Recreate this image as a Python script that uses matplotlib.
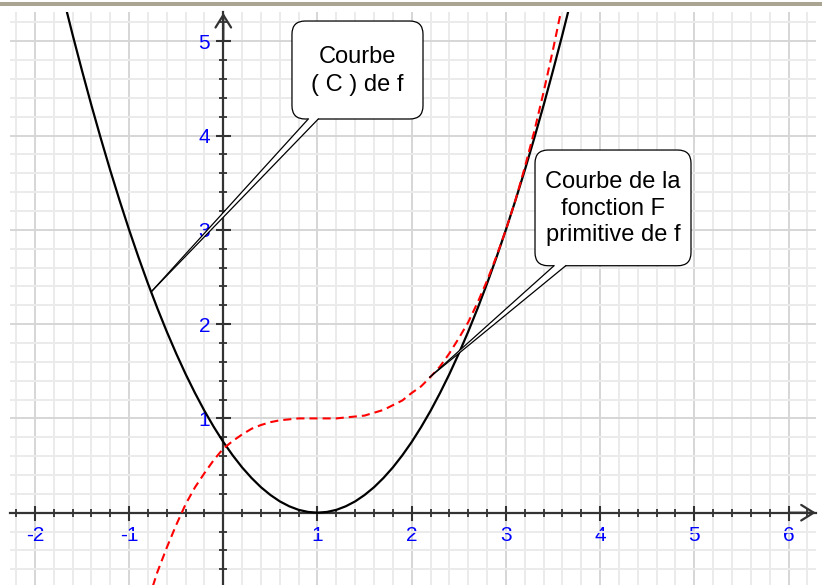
import matplotlib
matplotlib.use("Agg")
import matplotlib.pyplot as plt
from matplotlib.patches import FancyBboxPatch, Polygon, Rectangle

# -------------------------
# Data
# -------------------------
# curve (C) of f
f_x = [-1.8, -1.7, -1.6, -1.5, -1.4, -1.3, -1.2, -1.1, -1.0, -0.9,
       -0.8, -0.7, -0.6, -0.5, -0.4, -0.3, -0.2, -0.1, 0.0, 0.1,
       0.2, 0.3, 0.4, 0.5, 0.6, 0.7, 0.8, 0.9, 1.0, 1.1,
       1.2, 1.3, 1.4, 1.5, 1.6, 1.7, 1.8, 1.9, 2.0, 2.1,
       2.2, 2.3, 2.4, 2.5, 2.6, 2.7, 2.8, 2.9, 3.0, 3.1,
       3.2, 3.3, 3.4, 3.5, 3.6, 3.7, 3.8]
f_y = [5.880, 5.468, 5.070, 4.688, 4.320, 3.968, 3.630, 3.308, 3.000, 2.708,
       2.430, 2.168, 1.920, 1.688, 1.470, 1.268, 1.080, 0.908, 0.750, 0.608,
       0.480, 0.368, 0.270, 0.188, 0.120, 0.068, 0.030, 0.008, 0.000, 0.008,
       0.030, 0.068, 0.120, 0.188, 0.270, 0.368, 0.480, 0.608, 0.750, 0.908,
       1.080, 1.268, 1.470, 1.688, 1.920, 2.168, 2.430, 2.708, 3.000, 3.308,
       3.630, 3.968, 4.320, 4.688, 5.070, 5.468, 5.880]

# curve of F (dashed red)
F_x = [-0.8, -0.7, -0.6, -0.5, -0.4, -0.3, -0.2, -0.1, 0.0, 0.1,
       0.2, 0.3, 0.4, 0.5, 0.6, 0.7, 0.8, 0.9, 1.0, 1.1,
       1.2, 1.3, 1.4, 1.5, 1.6, 1.7, 1.8, 1.9, 2.0, 2.1,
       2.2, 2.3, 2.4, 2.5, 2.6, 2.7, 2.8, 2.9, 3.0, 3.1,
       3.2, 3.3, 3.4, 3.5, 3.6]
F_y = [-0.94, -0.63, -0.37, -0.13, 0.09, 0.27, 0.42, 0.56, 0.68, 0.76,
       0.83, 0.89, 0.93, 0.96, 0.98, 0.99, 1.00, 1.00, 1.00, 1.00,
       1.00, 1.01, 1.02, 1.03, 1.06, 1.09, 1.14, 1.19, 1.27, 1.34,
       1.44, 1.55, 1.69, 1.85, 2.02, 2.23, 2.46, 2.72, 3.00, 3.31,
       3.66, 4.04, 4.46, 4.91, 5.39]

x_ticks = [-2, -1, 1, 2, 3, 4, 5, 6]
y_ticks = [1, 2, 3, 4, 5]

callout_1 = "Courbe\n( C ) de f"
callout_2 = "Courbe de la\nfonction F\nprimitive de f"

# -------------------------
# Figure
# -------------------------
plt.rcParams['font.family'] = ['Liberation Sans', 'DejaVu Sans']

W, H = 822, 585
fig = plt.figure(figsize=(W / 100, H / 100), dpi=100, facecolor='white')
ax = fig.add_axes([10 / W, 0, 806 / W, 573 / H])

xmin, xmax = -2.2643, 6.2919
ymin, ymax = -0.7667, 5.3097
ax.set_xlim(xmin, xmax)
ax.set_ylim(ymin, ymax)

# window frame line at the top
fig.patches.append(Rectangle((0, 1 - 6 / H), 1, 4 / H, transform=fig.transFigure,
                             facecolor='#aaa592', edgecolor='none'))

# axes through the origin
axis_col = '#333333'
for side in ['top', 'right']:
    ax.spines[side].set_visible(False)
ax.spines['left'].set_position(('data', 0))
ax.spines['bottom'].set_position(('data', 0))
for side in ['left', 'bottom']:
    ax.spines[side].set_color(axis_col)
    ax.spines[side].set_linewidth(1.6)
    ax.spines[side].set_zorder(3)

label_kw = dict(fontsize=15, color='#0000ff', family=['Liberation Sans', 'DejaVu Sans'])
ax.set_xticks(x_ticks)
ax.set_xticklabels([str(t) for t in x_ticks], **label_kw)
ax.set_yticks(y_ticks)
ax.set_yticklabels([str(t) for t in y_ticks], **label_kw)
minor_x = [i / 5 for i in range(-11, 32)]
minor_y = [i / 5 for i in range(-3, 27)]
ax.set_xticks(minor_x, minor=True)
ax.set_yticks(minor_y, minor=True)

ax.tick_params(which='major', direction='inout', length=10.8, width=1.5, color=axis_col)
ax.tick_params(which='minor', direction='inout', length=5.2, width=1.3, color=axis_col)
ax.tick_params(axis='x', which='major', pad=4.0)
ax.tick_params(axis='y', which='major', pad=4.0)

ax.grid(which='minor', color='#ebebeb', linewidth=1.4, zorder=0)
ax.grid(which='major', color='#d6d6d6', linewidth=1.4, zorder=0)
ax.set_axisbelow(True)

# arrow heads
arr = dict(arrowstyle='->,head_length=0.45,head_width=0.28', color=axis_col, lw=1.6,
           shrinkA=0, shrinkB=0, mutation_scale=20)
ax.annotate('', xy=(6.29, 0), xytext=(6.0, 0), arrowprops=arr, annotation_clip=False, zorder=3)
ax.annotate('', xy=(0, 5.30), xytext=(0, 5.0), arrowprops=arr, annotation_clip=False, zorder=3)

# curves
ax.plot(f_x, f_y, color='black', lw=1.6, zorder=4, solid_joinstyle='round')
ax.plot(F_x, F_y, color='#ff0000', lw=1.5, linestyle=(0, (3.9, 2.4)), zorder=4)


# -------------------------
# Speech-bubble callouts
# -------------------------
def bubble(x0, y0, x1, y1, base, tip, text, tx, ty, linespacing):
    box = FancyBboxPatch((x0, y0), x1 - x0, y1 - y0,
                         boxstyle="round,pad=0,rounding_size=0.14",
                         facecolor='white', edgecolor='black', lw=0.9, zorder=6)
    ax.add_patch(box)
    (bx1, bx2) = base
    tail = Polygon([(bx1, y0 + 0.03), (bx2, y0 + 0.03), (bx2, y0), tip, (bx1, y0)],
                   closed=True, facecolor='white', edgecolor='none', zorder=7)
    ax.add_patch(tail)
    ax.plot([bx1, tip[0]], [y0, tip[1]], color='black', lw=0.9, zorder=8)
    ax.plot([bx2, tip[0]], [y0, tip[1]], color='black', lw=0.9, zorder=8)
    ax.text(tx, ty, text, ha='center', va='center', multialignment='center',
            fontsize=17, linespacing=linespacing, zorder=9)


bubble(0.729, 4.175, 2.120, 5.214, (0.902, 1.008), (-0.757, 2.351),
       callout_1, 1.425, 4.68, 1.35)
bubble(3.309, 2.619, 4.965, 3.846, (3.511, 3.635), (2.194, 1.439),
       callout_2, 4.137, 3.225, 1.26)

fig.savefig('out.png', dpi=100, facecolor='white')
